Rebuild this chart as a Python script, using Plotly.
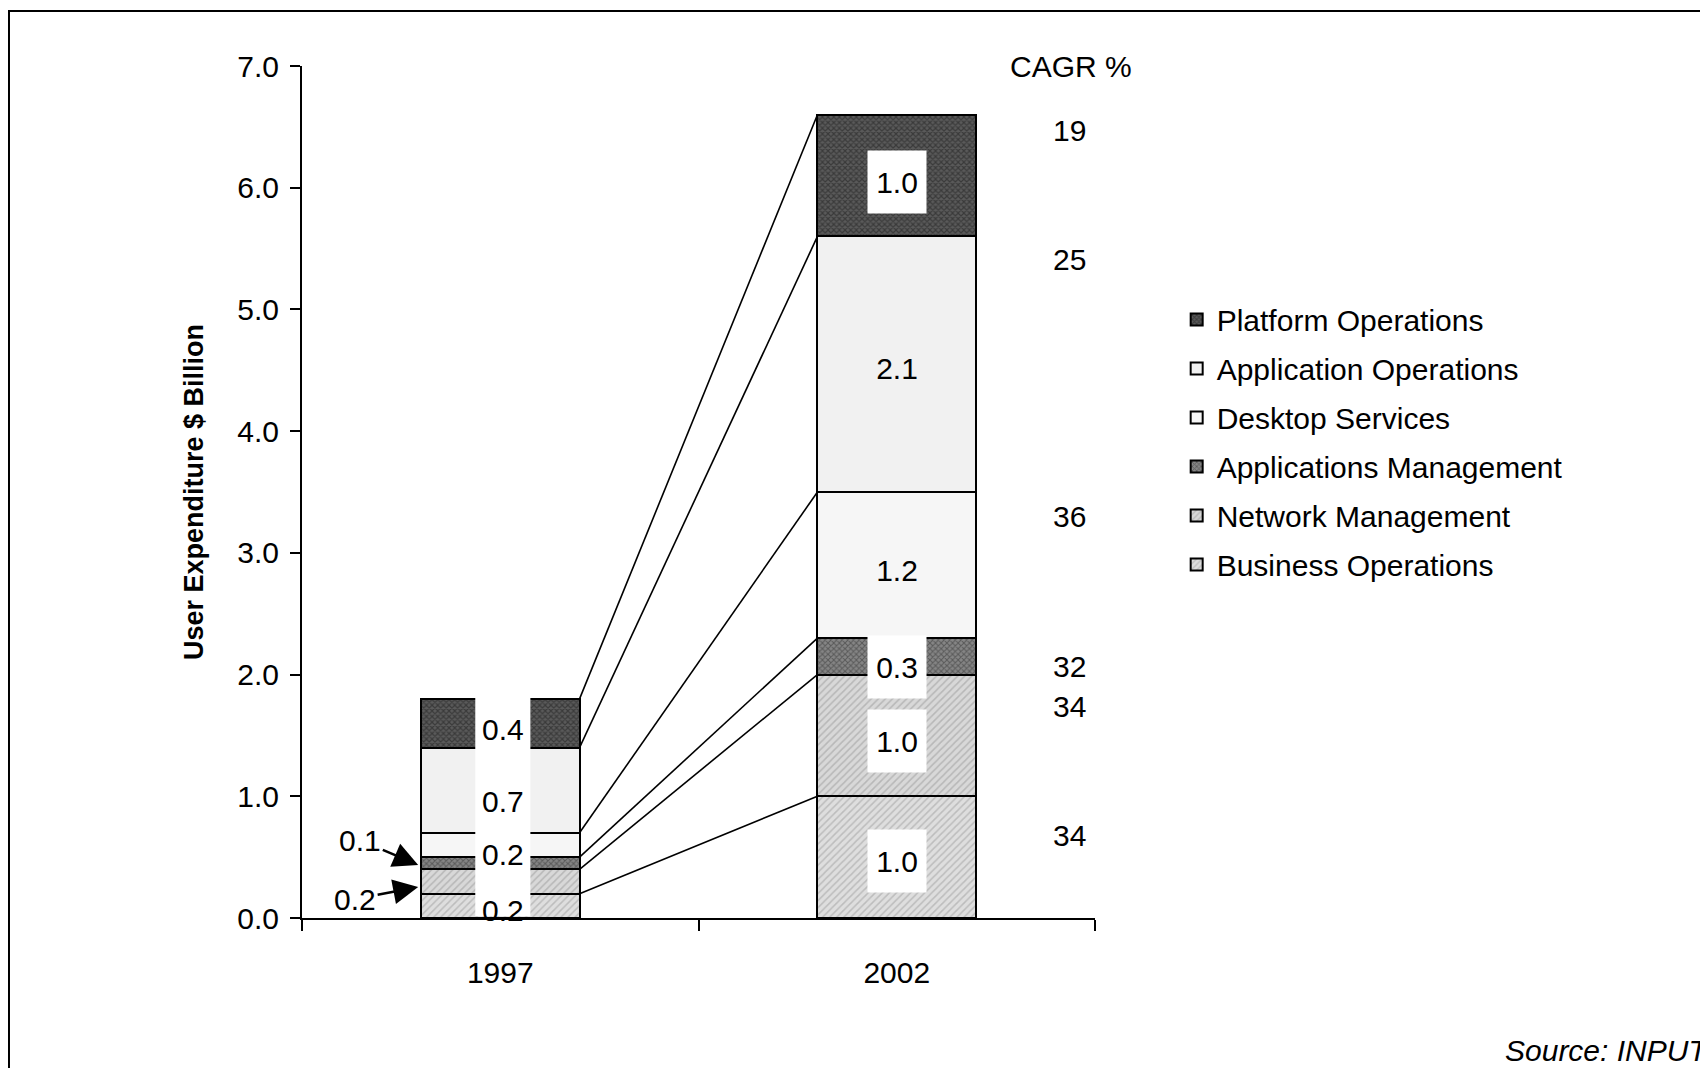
import plotly.graph_objects as go

# ---- data ----
years = ["1997", "2002"]
x_pos = [0, 1]
segments = ["Business Operations", "Network Management", "Applications Management",
            "Desktop Services", "Application Operations", "Platform Operations"]
values_1997 = [0.2, 0.2, 0.1, 0.2, 0.7, 0.4]
values_2002 = [1.0, 1.0, 0.3, 1.2, 2.1, 1.0]
cagr = [34, 34, 32, 36, 25, 19]
cagr_label_y = [0.68, 1.74, 2.065, 3.30, 5.41, 6.47]
labels_1997_y = [0.06, 0.52, 0.96, 1.545]          # labels in the gap of the 1997 bar
labels_1997_txt = ["0.2", "0.2", "0.7", "0.4"]
labels_2002_y = [0.47, 1.457, 2.065, 2.86, 4.52, 6.05]
y_ticks = [0, 1, 2, 3, 4, 5, 6, 7]

# ---- styles ----
FONT = "Liberation Sans, Arial, sans-serif"
FS = 30
styles = {
    "Business Operations": dict(color="#dedede", pattern=dict(shape="/", fgcolor="#9a9a9a", size=5, solidity=0.3, fillmode="overlay")),
    "Network Management": dict(color="#d8d8d8", pattern=dict(shape="/", fgcolor="#959595", size=5, solidity=0.3, fillmode="overlay")),
    "Applications Management": dict(color="#858585", pattern=dict(shape="x", fgcolor="#2e2e2e", size=4, solidity=0.45, fillmode="overlay")),
    "Desktop Services": dict(color="#f6f6f6"),
    "Application Operations": dict(color="#f1f1f1"),
    "Platform Operations": dict(color="#5a5a5a", pattern=dict(shape="x", fgcolor="#1a1a1a", size=4, solidity=0.5, fillmode="overlay")),
}

fig = go.Figure()
n = len(segments)
for i, seg in enumerate(segments):
    st = styles[seg]
    marker = dict(color=st["color"], line=dict(color="black", width=2))
    if "pattern" in st:
        marker["pattern"] = st["pattern"]
    fig.add_trace(go.Bar(
        x=x_pos, y=[values_1997[i], values_2002[i]], width=0.4, name=seg,
        marker=marker, legendgroup=seg, legendrank=(n - i) * 10, hoverinfo="skip"))

# cumulative tops and connecting lines
cum97, cum02 = [], []
s1 = s2 = 0
for a, b in zip(values_1997, values_2002):
    s1 += a; s2 += b
    cum97.append(s1); cum02.append(s2)
for a, b in zip(cum97, cum02):
    fig.add_trace(go.Scatter(x=[0.2, 0.8], y=[a, b], mode="lines",
                             line=dict(color="black", width=1.6),
                             showlegend=False, hoverinfo="skip", cliponaxis=False))

shapes = []
# white gap in the middle of the 1997 bar
shapes.append(dict(type="rect", xref="x", yref="y", x0=-0.063, x1=0.076, y0=0.015, y1=1.9,
                   fillcolor="white", line=dict(width=0), layer="above"))
# outer frame
shapes.append(dict(type="rect", xref="paper", yref="paper", x0=-0.3695, x1=1.79, y0=-0.2, y1=1.0646,
                   line=dict(color="black", width=2), fillcolor="rgba(0,0,0,0)", layer="below"))

annotations = []
for t, yv in zip(labels_1997_txt, labels_1997_y):
    annotations.append(dict(x=0.006, y=yv, xref="x", yref="y", text=t, showarrow=False,
                            font=dict(size=FS, color="black", family=FONT)))
for v, yv in zip(values_2002, labels_2002_y):
    bg = "white" if v not in (1.2, 2.1) else "rgba(0,0,0,0)"
    annotations.append(dict(x=1, y=yv, xref="x", yref="y", text=f"{v:.1f}", showarrow=False,
                            bgcolor=bg, width=56, height=60,
                            font=dict(size=FS, color="black", family=FONT)))
# arrows for small 1997 values
annotations.append(dict(x=-0.207, y=0.435, xref="x", yref="y", ax=-0.353, ay=0.64,
                        axref="x", ayref="y", text=f"{values_1997[2]:.1f}", showarrow=True,
                        arrowhead=2, arrowsize=2, arrowwidth=2.5, arrowcolor="black",
                        font=dict(size=FS, color="black", family=FONT)))
annotations.append(dict(x=-0.207, y=0.255, xref="x", yref="y", ax=-0.366, ay=0.156,
                        axref="x", ayref="y", text=f"{values_1997[1]:.1f}", showarrow=True,
                        arrowhead=2, arrowsize=2, arrowwidth=2.5, arrowcolor="black",
                        font=dict(size=FS, color="black", family=FONT)))
# CAGR column
annotations.append(dict(x=1.44, y=7.0, xref="x", yref="y", text="CAGR %", showarrow=False,
                        font=dict(size=FS, color="black", family=FONT)))
for c, yv in zip(cagr, cagr_label_y):
    annotations.append(dict(x=1.435, y=yv, xref="x", yref="y", text=str(c), showarrow=False,
                            font=dict(size=FS, color="black", family=FONT)))
# source
annotations.append(dict(x=1.5145, y=-0.156, xref="paper", yref="paper", text="<i>Source: INPUT</i>",
                        showarrow=False, xanchor="left", yanchor="middle",
                        font=dict(size=FS, color="black", family=FONT)))

fig.update_layout(
    width=1700, height=1060,
    margin=dict(l=294, r=613, t=58, b=150, autoexpand=False),
    paper_bgcolor="white", plot_bgcolor="white",
    barmode="stack",
    font=dict(family=FONT, size=FS, color="black"),
    showlegend=True,
    legend=dict(x=1.103, y=0.733, xanchor="left", yanchor="top", traceorder="grouped",
                tracegroupgap=7, bgcolor="rgba(0,0,0,0)",
                font=dict(size=FS, family=FONT, color="black")),
    shapes=shapes, annotations=annotations,
    xaxis=dict(range=[-0.5, 1.5], tickvals=x_pos, ticktext=years, ticks="",
               showline=True, linecolor="black", linewidth=2, showgrid=False, zeroline=False,
               ticklabelstandoff=27,
               minor=dict(tickmode="linear", tick0=-0.5, dtick=1, ticks="outside",
                          ticklen=11, tickwidth=2, tickcolor="black", showgrid=False),
               tickfont=dict(size=FS, family=FONT, color="black")),
    yaxis=dict(range=[0, 7], tickvals=y_ticks, tickformat=".1f", ticks="outside",
               ticklen=10, tickwidth=2, tickcolor="black",
               showline=True, linecolor="black", linewidth=2, showgrid=False, zeroline=False,
               ticklabelstandoff=5,
               tickfont=dict(size=FS, family=FONT, color="black")),
)
fig.update_yaxes(title=dict(text="<b>User Expenditure $ Billion</b>", standoff=26,
                            font=dict(size=27, family=FONT, color="black")))

fig.write_html("out.html")
